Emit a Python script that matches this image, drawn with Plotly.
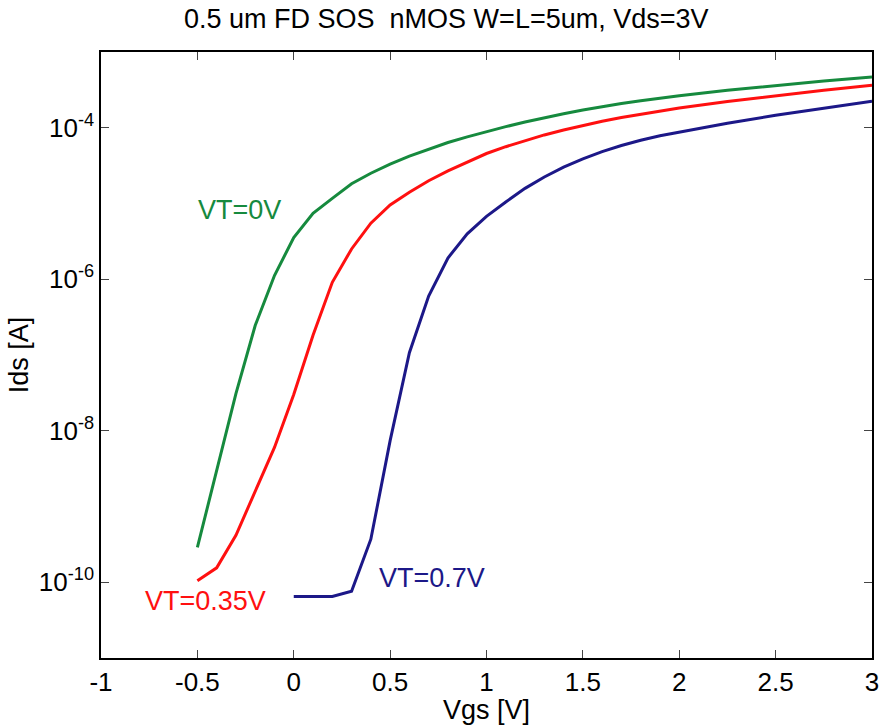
import plotly.graph_objects as go

# Gate voltage sweep points [V] and drain currents [A]
vgs_vt0 = [-0.5, -0.4, -0.3, -0.2, -0.1, 0.0, 0.1, 0.2, 0.3, 0.4, 0.5, 0.6, 0.7, 0.8, 0.9, 1.0,
           1.1, 1.2, 1.3, 1.4, 1.5, 1.6, 1.7, 1.8, 1.9, 2.0, 2.25, 2.5, 2.75, 3.0]
ids_vt0 = [2.88e-10, 3.02e-9, 3.09e-8, 2.45e-7, 1.12e-6, 3.55e-6, 7.41e-6, 1.17e-5, 1.82e-5, 2.51e-5,
           3.31e-5, 4.22e-5, 5.25e-5, 6.38e-5, 7.59e-5, 8.91e-5,
           1.035e-4, 1.19e-4, 1.355e-4, 1.53e-4, 1.714e-4, 1.90e-4, 2.09e-4, 2.275e-4, 2.46e-4, 2.64e-4,
           3.12e-4, 3.63e-4, 4.15e-4, 4.68e-4]

vgs_vt035 = [-0.5, -0.4, -0.3, -0.2, -0.1, 0.0, 0.1, 0.2, 0.3, 0.4, 0.5, 0.6, 0.7, 0.8, 0.9, 1.0,
             1.1, 1.2, 1.3, 1.4, 1.5, 1.6, 1.7, 1.8, 1.9, 2.0, 2.25, 2.5, 2.75, 3.0]
ids_vt035 = [1.05e-10, 1.55e-10, 4.17e-10, 1.55e-9, 6.03e-9, 3.02e-8, 1.82e-7, 9.12e-7, 2.51e-6, 5.50e-6,
             9.55e-6, 1.41e-5, 2.0e-5, 2.69e-5, 3.55e-5, 4.57e-5,
             5.62e-5, 6.76e-5, 8.04e-5, 9.33e-5, 1.072e-4, 1.216e-4, 1.365e-4, 1.514e-4, 1.667e-4, 1.828e-4,
             2.223e-4, 2.66e-4, 3.126e-4, 3.63e-4]

vgs_vt07 = [0.0, 0.1, 0.2, 0.3, 0.4, 0.5, 0.6, 0.7, 0.8, 0.9, 1.0,
            1.1, 1.2, 1.3, 1.4, 1.5, 1.6, 1.7, 1.8, 1.9, 2.0, 2.25, 2.5, 2.75, 3.0]
ids_vt07 = [6.5e-11, 6.5e-11, 6.5e-11, 7.6e-11, 3.7e-10, 7.4e-9, 1.07e-7, 6.0e-7, 1.91e-6, 3.98e-6, 6.76e-6,
            1.047e-5, 1.585e-5, 2.24e-5, 3.02e-5, 3.89e-5, 4.84e-5, 5.82e-5, 6.84e-5, 7.85e-5, 8.81e-5,
            1.148e-4, 1.462e-4, 1.82e-4, 2.24e-4]

x_ticks = [-1, -0.5, 0, 0.5, 1, 1.5, 2, 2.5, 3]
x_ticktext = ["-1", "-0.5", "0", "0.5", "1", "1.5", "2", "2.5", "3"]
y_ticks = [1e-10, 1e-8, 1e-6, 1e-4]
y_ticktext = ["10<sup>-10</sup>", "10<sup>-8</sup>", "10<sup>-6</sup>", "10<sup>-4</sup>"]

GREEN = "#168a3e"
RED = "#ff1010"
NAVY = "#1c1888"

fig = go.Figure()
fig.add_trace(go.Scatter(x=vgs_vt0, y=ids_vt0, mode="lines", line=dict(color=GREEN, width=3), showlegend=False))
fig.add_trace(go.Scatter(x=vgs_vt035, y=ids_vt035, mode="lines", line=dict(color=RED, width=3), showlegend=False))
fig.add_trace(go.Scatter(x=vgs_vt07, y=ids_vt07, mode="lines", line=dict(color=NAVY, width=3), showlegend=False))

font_family = "Liberation Sans, Arial, sans-serif"

fig.add_annotation(x=-0.28, y=-5.09, xref="x", yref="y", text="VT=0V", showarrow=False,
                   font=dict(color=GREEN, size=27, family=font_family))
fig.add_annotation(x=-0.46, y=-10.25, xref="x", yref="y", text="VT=0.35V", showarrow=False,
                   font=dict(color=RED, size=27, family=font_family))
fig.add_annotation(x=0.715, y=-9.94, xref="x", yref="y", text="VT=0.7V", showarrow=False,
                   font=dict(color=NAVY, size=27, family=font_family))

fig.update_layout(
    width=882, height=725,
    margin=dict(l=101, r=10, t=52, b=67, autoexpand=False),
    paper_bgcolor="white", plot_bgcolor="white",
    font=dict(family=font_family, size=26, color="black"),
    title=dict(text="0.5 um FD SOS  nMOS W=L=5um, Vds=3V", x=0.506, xanchor="center",
               y=0.974, yanchor="middle", font=dict(size=27)),
    xaxis=dict(range=[-1, 3], tickvals=x_ticks, ticktext=x_ticktext, ticks="inside", ticklen=8,
               tickcolor="#444", showline=True, linecolor="black", linewidth=1.5, mirror="ticks",
               showgrid=False, zeroline=False, tickfont=dict(size=26),
               automargin=False, ticklabeloverflow="allow",
               title=dict(text="Vgs [V]", standoff=0, font=dict(size=27))),
    yaxis=dict(type="log", range=[-11, -3], tickvals=y_ticks, ticktext=y_ticktext, ticks="inside",
               ticklen=8, tickcolor="#444", showline=True, linecolor="black", linewidth=1.5,
               mirror="ticks", showgrid=False, zeroline=False, tickfont=dict(size=26),
               automargin=False, ticklabeloverflow="allow",
               title=dict(text="Ids [A]", standoff=2, font=dict(size=27))),
)

fig.write_html("out.html", config={"displayModeBar": False},
               post_script="document.body.style.margin='0';document.body.style.padding='0';")
